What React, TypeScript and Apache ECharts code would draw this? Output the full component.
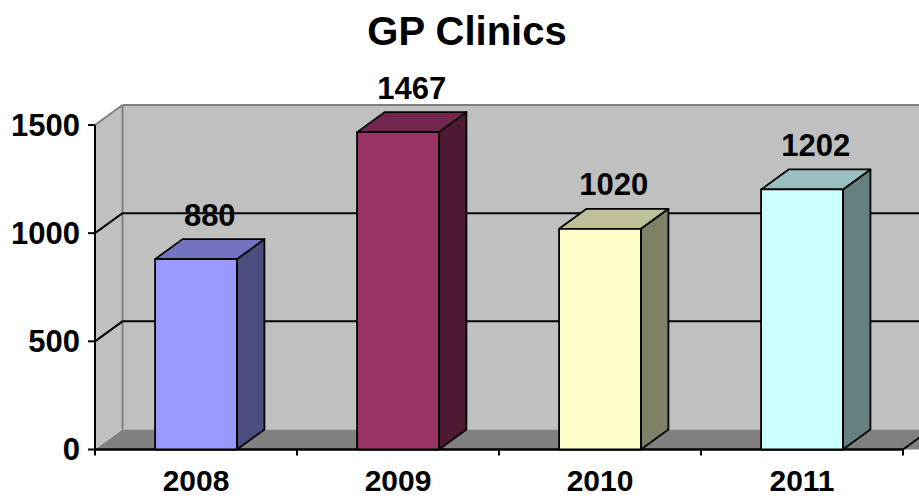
import React, { useEffect, useRef } from "react";
import * as echarts from "echarts";

const categories = ["2008", "2009", "2010", "2011"];
const clinics = [880, 1467, 1020, 1202];
const yTickValues = [0, 500, 1000, 1500];
const titleText = "GP Clinics";

const FONT = "'Liberation Sans', Arial, sans-serif";
const frontColors = ["#9999FF", "#993366", "#FFFFCC", "#CCFFFF"];
const topColors = ["#7373BF", "#73264D", "#BFBF99", "#99BFBF"];
const sideColors = ["#4C4C80", "#4D1933", "#808066", "#668080"];
const DX = 27.5;
const DY = -20;

export default function App() {
  const ref = useRef<HTMLDivElement>(null);
  useEffect(() => {
    if (!ref.current) return;
    const chart = echarts.init(ref.current, null, { renderer: "svg" });

    const wallsRender = (params: any, api: any) => {
      const cs = params.coordSys;
      const x0 = cs.x;
      const x1 = cs.x + cs.width;
      const yBot = api.coord([0, yTickValues[0]])[1];
      const yTop = api.coord([0, yTickValues[yTickValues.length - 1]])[1];
      const children: any[] = [];
      children.push({
        type: "polygon",
        shape: { points: [[x0, yTop], [x0 + DX, yTop + DY], [x0 + DX, yBot + DY], [x0, yBot]] },
        style: { fill: "#C0C0C0", stroke: "none" },
      });
      children.push({
        type: "rect",
        shape: { x: x0 + DX, y: yTop + DY, width: x1 - x0 + 40, height: yBot - yTop },
        style: { fill: "#C0C0C0", stroke: "none" },
      });
      children.push({
        type: "polygon",
        shape: { points: [[x0, yBot], [x0 + DX, yBot + DY], [x1 + DX + 40, yBot + DY], [x1 + 40, yBot]] },
        style: { fill: "#808080", stroke: "none" },
      });
      children.push({ type: "line", shape: { x1: x0 + DX, y1: yTop + DY, x2: x0 + DX, y2: yBot + DY }, style: { stroke: "#808080", lineWidth: 2 } });
      children.push({ type: "line", shape: { x1: x0, y1: yTop, x2: x0 + DX, y2: yTop + DY }, style: { stroke: "#808080", lineWidth: 2 } });
      children.push({ type: "line", shape: { x1: x0 + DX, y1: yTop + DY, x2: x1 + DX + 40, y2: yTop + DY }, style: { stroke: "#808080", lineWidth: 2 } });
      yTickValues.slice(1, -1).forEach((v) => {
        const y = api.coord([0, v])[1];
        children.push({
          type: "polyline",
          shape: { points: [[x0, y], [x0 + DX, y + DY], [x1 + DX + 40, y + DY]] },
          style: { stroke: "#000", lineWidth: 2, fill: "none" },
        });
      });
      children.push({ type: "line", shape: { x1: x0, y1: yTop, x2: x0, y2: yBot + 4 }, style: { stroke: "#000", lineWidth: 2 } });
      yTickValues.forEach((v) => {
        const y = api.coord([0, v])[1];
        children.push({ type: "line", shape: { x1: x0 - 7, y1: y, x2: x0, y2: y }, style: { stroke: "#000", lineWidth: 2 } });
      });
      children.push({ type: "line", shape: { x1: x0, y1: yBot, x2: x1, y2: yBot }, style: { stroke: "#000", lineWidth: 2.5 } });
      const cw = cs.width / categories.length;
      for (let i = 0; i <= categories.length; i++) {
        const x = x0 + cw * i;
        children.push({ type: "line", shape: { x1: x, y1: yBot, x2: x, y2: yBot + 6 }, style: { stroke: "#000", lineWidth: 2 } });
      }
      children.push({ type: "line", shape: { x1: x1, y1: yBot, x2: x1 + DX, y2: yBot + DY }, style: { stroke: "#000", lineWidth: 2 } });
      return { type: "group", children };
    };

    const barRender = (params: any, api: any) => {
      const i = api.value(0);
      const v = api.value(1);
      const [cx, yt] = api.coord([i, v]);
      const yb = api.coord([i, 0])[1];
      const w = api.size([1, 0])[0] * 0.405;
      const xl = cx - w / 2;
      const xr = cx + w / 2;
      const stroke = { stroke: "#000", lineWidth: 1.8, lineJoin: "round" };
      return {
        type: "group",
        children: [
          {
            type: "polygon",
            shape: { points: [[xr, yt], [xr + DX, yt + DY], [xr + DX, yb + DY], [xr, yb]] },
            style: { fill: sideColors[i], ...stroke },
          },
          {
            type: "polygon",
            shape: { points: [[xl, yt], [xl + DX, yt + DY], [xr + DX, yt + DY], [xr, yt]] },
            style: { fill: topColors[i], ...stroke },
          },
          {
            type: "rect",
            shape: { x: xl, y: yt, width: w, height: yb - yt },
            style: { fill: frontColors[i], ...stroke },
          },
          {
            type: "text",
            x: cx + DX / 2,
            y: yt + DY - 24,
            style: {
              text: String(v),
              fill: "#000",
              fontSize: 31,
              fontWeight: "bold",
              fontFamily: FONT,
              align: "center",
              verticalAlign: "middle",
            },
          },
        ],
      };
    };

    chart.setOption({
      animation: false,
      backgroundColor: "#FFFFFF",
      graphic: [
        {
          type: "text",
          x: 467,
          y: 31,
          style: {
            text: titleText,
            fill: "#000",
            fontSize: 40,
            fontWeight: "bold",
            fontFamily: FONT,
            align: "center",
            verticalAlign: "middle",
          },
        },
      ],
      grid: { left: 95, right: 16, top: 125, bottom: 48.5, containLabel: false },
      xAxis: {
        type: "category",
        data: categories,
        axisLine: { show: false },
        axisTick: { show: false },
        splitLine: { show: false },
        axisLabel: { margin: 19, fontSize: 30, lineHeight: 24, fontWeight: "bold", color: "#000", fontFamily: FONT },
      },
      yAxis: {
        type: "value",
        min: 0,
        max: 1500,
        interval: 500,
        axisLine: { show: false },
        axisTick: { show: false },
        splitLine: { show: false },
        axisLabel: {
          margin: 15,
          fontSize: 31,
          fontWeight: "bold",
          color: "#000",
          fontFamily: FONT,
          formatter: (val: number) => String(val),
        },
      },
      series: [
        {
          type: "custom",
          name: "walls",
          renderItem: wallsRender,
          data: [[0, 0]],
          silent: true,
          z: 1,
        },
        {
          type: "custom",
          name: "GP Clinics",
          renderItem: barRender,
          data: clinics.map((v, i) => [i, v]),
          z: 2,
        },
      ],
    });
    return () => chart.dispose();
  }, []);
  return (
    <div
      ref={ref}
      style={{ position: "fixed", left: 0, top: 0, width: 919, height: 498, background: "#fff" }}
    />
  );
}
